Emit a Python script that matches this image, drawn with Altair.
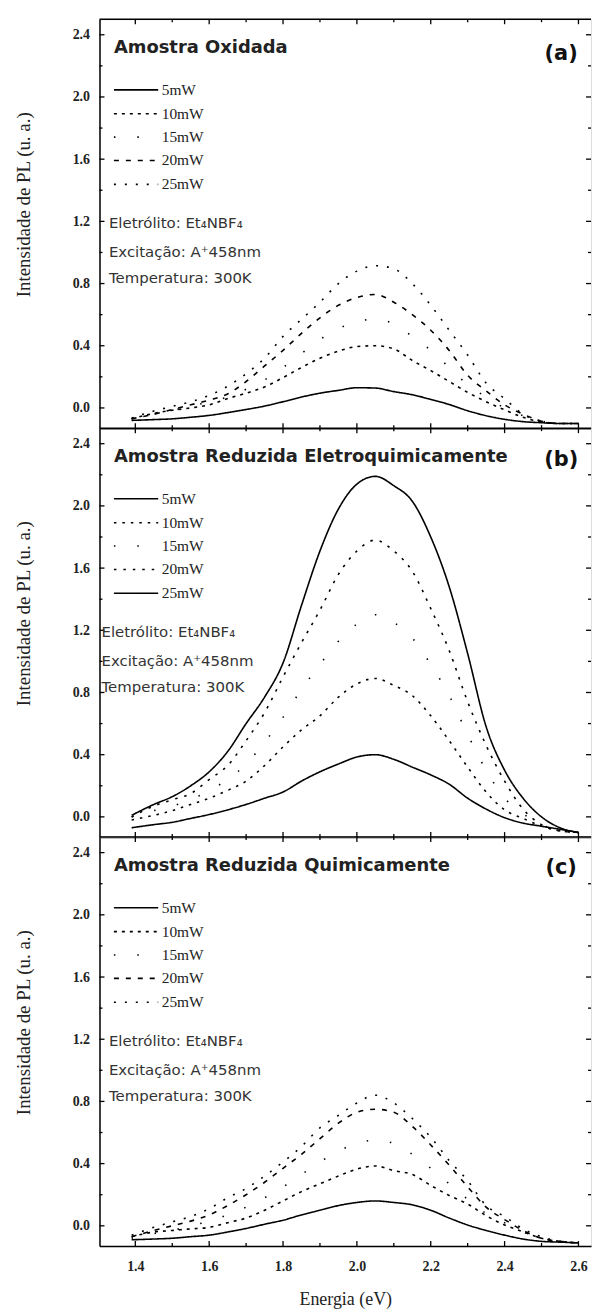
import altair as alt
import pandas as pd

# ---------------- data ----------------
energy = [1.39, 1.45, 1.50, 1.55, 1.60, 1.65, 1.70, 1.75, 1.80, 1.85, 1.90, 1.95, 2.00,
          2.05, 2.10, 2.15, 2.20, 2.25, 2.30, 2.35, 2.40, 2.45, 2.50, 2.55, 2.60]
series_names = ["5mW", "10mW", "15mW", "20mW", "25mW"]

# (a) Amostra Oxidada
a_5mW = [-0.08, -0.075, -0.07, -0.06, -0.048, -0.03, -0.01, 0.012, 0.04, 0.07, 0.095, 0.113, 0.13,
         0.128, 0.105, 0.085, 0.055, 0.022, -0.018, -0.05, -0.073, -0.088, -0.095, -0.10, -0.10]
a_10mW = [-0.07, -0.035, -0.015, 0.0, 0.02, 0.06, 0.095, 0.135, 0.195, 0.26, 0.32, 0.365, 0.395,
          0.40, 0.38, 0.305, 0.24, 0.17, 0.10, 0.04, -0.012, -0.06, -0.09, -0.10, -0.10]
a_15mW = [-0.07, -0.04, -0.015, 0.01, 0.04, 0.07, 0.12, 0.18, 0.26, 0.35, 0.44, 0.51, 0.555,
          0.57, 0.54, 0.46, 0.37, 0.26, 0.15, 0.07, 0.0, -0.05, -0.085, -0.10, -0.10]
a_20mW = [-0.07, -0.04, -0.01, 0.02, 0.05, 0.09, 0.17, 0.27, 0.37, 0.48, 0.58, 0.66, 0.71,
          0.73, 0.68, 0.60, 0.50, 0.37, 0.21, 0.11, 0.02, -0.04, -0.085, -0.10, -0.10]
a_25mW = [-0.065, -0.02, 0.01, 0.04, 0.08, 0.14, 0.22, 0.32, 0.46, 0.57, 0.68, 0.80, 0.88,
          0.915, 0.895, 0.80, 0.66, 0.50, 0.34, 0.16, 0.06, -0.04, -0.085, -0.10, -0.10]

# (b) Amostra Reduzida Eletroquimicamente
b_5mW = [-0.07, -0.05, -0.035, -0.01, 0.015, 0.045, 0.08, 0.12, 0.16, 0.23, 0.29, 0.34, 0.385,
         0.40, 0.37, 0.32, 0.27, 0.21, 0.12, 0.05, -0.005, -0.04, -0.06, -0.08, -0.10]
b_10mW = [-0.02, 0.01, 0.04, 0.08, 0.12, 0.17, 0.23, 0.33, 0.45, 0.56, 0.65, 0.77, 0.855,
          0.89, 0.845, 0.78, 0.65, 0.49, 0.32, 0.16, 0.045, -0.01, -0.06, -0.09, -0.10]
b_15mW = [0.0, 0.04, 0.07, 0.11, 0.17, 0.24, 0.34, 0.48, 0.64, 0.82, 0.98, 1.13, 1.24,
          1.30, 1.25, 1.15, 0.98, 0.78, 0.53, 0.30, 0.12, 0.02, -0.05, -0.09, -0.10]
b_20mW = [0.0, 0.07, 0.11, 0.15, 0.24, 0.33, 0.49, 0.67, 0.90, 1.12, 1.33, 1.56, 1.71,
          1.78, 1.71, 1.58, 1.34, 1.07, 0.74, 0.46, 0.23, 0.05, -0.05, -0.09, -0.10]
b_25mW = [0.01, 0.08, 0.13, 0.20, 0.29, 0.42, 0.60, 0.77, 0.99, 1.36, 1.71, 1.98, 2.14,
          2.19, 2.13, 2.03, 1.80, 1.48, 1.05, 0.58, 0.30, 0.12, 0.0, -0.07, -0.10]

# (c) Amostra Reduzida Quimicamente
c_5mW = [-0.09, -0.085, -0.08, -0.07, -0.06, -0.04, -0.017, 0.01, 0.036, 0.07, 0.10, 0.13, 0.15,
         0.16, 0.15, 0.135, 0.10, 0.05, 0.005, -0.03, -0.06, -0.085, -0.10, -0.105, -0.11]
c_10mW = [-0.07, -0.04, -0.03, -0.02, -0.01, 0.02, 0.05, 0.10, 0.16, 0.22, 0.27, 0.32, 0.365,
          0.385, 0.355, 0.33, 0.26, 0.195, 0.14, 0.065, 0.005, -0.038, -0.08, -0.10, -0.11]
c_15mW = [-0.08, -0.05, -0.03, 0.0, 0.03, 0.07, 0.12, 0.18, 0.25, 0.33, 0.41, 0.48, 0.53,
          0.55, 0.53, 0.46, 0.37, 0.27, 0.17, 0.08, 0.02, -0.04, -0.08, -0.10, -0.11]
c_20mW = [-0.07, -0.03, 0.0, 0.03, 0.07, 0.13, 0.20, 0.28, 0.37, 0.46, 0.56, 0.66, 0.73,
          0.75, 0.73, 0.64, 0.52, 0.39, 0.25, 0.12, 0.04, -0.03, -0.08, -0.10, -0.11]
c_25mW = [-0.06, -0.01, 0.025, 0.06, 0.11, 0.18, 0.24, 0.32, 0.41, 0.51, 0.63, 0.71, 0.79,
          0.84, 0.79, 0.69, 0.57, 0.42, 0.29, 0.13, 0.06, -0.02, -0.07, -0.10, -0.11]

panel_titles = ["Amostra Oxidada", "Amostra Reduzida Eletroquimicamente", "Amostra Reduzida Quimicamente"]
panel_letters = ["(a)", "(b)", "(c)"]
annotations = ["Eletrólito: Et₄NBF₄", "Excitação: A⁺458nm", "Temperatura: 300K"]

y_major = [0.0, 0.4, 0.8, 1.2, 1.6, 2.0, 2.4]
y_minor = [0.2, 0.6, 1.0, 1.4, 1.8, 2.2]
x_major = [1.4, 1.6, 1.8, 2.0, 2.2, 2.4, 2.6]
x_minor = [1.5, 1.7, 1.9, 2.1, 2.3, 2.5]

# ---------------- layout / style ----------------
W, H = 494, 411
XDOM = [1.303, 2.634]
YDOM = [-0.13, 2.50]
SERIF = "Liberation Serif"
SANS = "DejaVu Sans"

dash_ox = [[1, 0], [3, 5], [1.5, 22], [5, 7], [2, 9]]
dash_el = [[1, 0], [2.5, 6], [1.5, 22], [2.5, 7], [1, 0]]

xs = alt.Scale(domain=XDOM, nice=False, zero=False)
ys = alt.Scale(domain=YDOM, nice=False, zero=False)


def make_axes(show_x):
    yaxis = alt.Axis(values=y_major, format=".1f", ticks=False, grid=False,
                     domainColor="black", domainWidth=1.5, labelFlush=False,
                     labelFont=SERIF, labelFontWeight="bold", labelFontSize=14,
                     labelColor="#222", labelPadding=10,
                     title="Intensidade de PL (u. a.)", titleFont=SERIF,
                     titleFontWeight="normal", titleFontSize=19, titleColor="#222",
                     titleX=-76, titleY=186, titleBaseline="middle", titleAngle=270)
    if show_x:
        xaxis = alt.Axis(values=x_major, format=".1f", ticks=False, grid=False,
                         domainColor="black", domainWidth=1.5, labelFlush=False,
                         labelFont=SERIF, labelFontWeight="bold", labelFontSize=14,
                         labelColor="#222", labelPadding=14,
                         title="Energia (eV)", titleFont=SERIF, titleFontWeight="normal",
                         titleFontSize=18, titleColor="#222", titlePadding=17)
    else:
        xaxis = alt.Axis(values=x_major, ticks=False, grid=False, labels=False,
                         domainColor="black", domainWidth=1.5, title=None)
    return xaxis, yaxis


def panel(curves, dashes, title, letter, letter_y, annot_x, show_x):
    xaxis, yaxis = make_axes(show_x)
    X = alt.X("E:Q", scale=xs, axis=xaxis)
    Y = alt.Y("I:Q", scale=ys, axis=yaxis)

    rows = []
    for name, vals in zip(series_names, curves):
        for e, v in zip(energy, vals):
            rows.append({"E": e, "I": v, "series": name})
    df = pd.DataFrame(rows)

    lines = alt.Chart(df).mark_line(color="black", strokeWidth=1.6, interpolate="monotone",
                                    clip=True).encode(
        x=X, y=Y,
        strokeDash=alt.StrokeDash("series:N", scale=alt.Scale(domain=series_names, range=dashes),
                                  legend=None),
    )

    layers = [lines]
    # inward ticks (left/right for y, top/bottom for x)
    for vals, ln in ((y_major, 5), (y_minor, 3)):
        d = pd.DataFrame({"I": vals})
        layers.append(alt.Chart(d).mark_rule(color="black", strokeWidth=1.3).encode(
            y=Y, x=alt.value(0), x2=alt.value(ln)))
        layers.append(alt.Chart(d).mark_rule(color="black", strokeWidth=1.3).encode(
            y=Y, x=alt.value(W - ln), x2=alt.value(W)))
    for vals, ln in ((x_major, 5), (x_minor, 3)):
        d = pd.DataFrame({"E": vals})
        layers.append(alt.Chart(d).mark_rule(color="black", strokeWidth=1.3).encode(
            x=X, y=alt.value(H - ln), y2=alt.value(H)))
        layers.append(alt.Chart(d).mark_rule(color="black", strokeWidth=1.3).encode(
            x=X, y=alt.value(0), y2=alt.value(ln)))
    # top frame line
    layers.append(alt.Chart(pd.DataFrame({"k": [0]})).mark_rule(color="black", strokeWidth=1.5).encode(
        x=alt.value(0), x2=alt.value(W), y=alt.value(0)))

    # panel title and letter
    layers.append(alt.Chart(pd.DataFrame({"t": [title]})).mark_text(
        align="left", baseline="middle", font=SANS, fontWeight="bold", fontSize=18,
        color="#222").encode(text="t:N", x=alt.value(14.5), y=alt.value(29)))
    layers.append(alt.Chart(pd.DataFrame({"t": [letter]})).mark_text(
        align="center", baseline="middle", font=SANS, fontWeight="bold", fontSize=21,
        color="#111").encode(text="t:N", x=alt.value(464), y=alt.value(letter_y)))

    # legend
    leg_y = [71, 95, 118.5, 142, 166]
    for name, dsh, ly in zip(series_names, dashes, leg_y):
        ld = pd.DataFrame({"t": [name]})
        layers.append(alt.Chart(ld).mark_rule(color="black", strokeWidth=1.6, strokeDash=dsh).encode(
            x=alt.value(14.5), x2=alt.value(59), y=alt.value(ly)))
        layers.append(alt.Chart(ld).mark_text(
            align="left", baseline="middle", font=SERIF, fontSize=15.5, color="#222").encode(
            text="t:N", x=alt.value(62.5), y=alt.value(ly)))

    # annotations
    for txt, ay in zip(annotations, [205, 234, 260]):
        layers.append(alt.Chart(pd.DataFrame({"t": [txt]})).mark_text(
            align="left", baseline="middle", font=SANS, fontSize=15,
            color="#333").encode(text="t:N", x=alt.value(annot_x), y=alt.value(ay)))

    return alt.layer(*layers).properties(width=W, height=H)


pa = panel([a_5mW, a_10mW, a_15mW, a_20mW, a_25mW], dash_ox, panel_titles[0], panel_letters[0], 35, 9.5, False)
pb = panel([b_5mW, b_10mW, b_15mW, b_20mW, b_25mW], dash_el, panel_titles[1], panel_letters[1], 32, 2, False)
pc = panel([c_5mW, c_10mW, c_15mW, c_20mW, c_25mW], dash_ox, panel_titles[2], panel_letters[2], 31, 9.5, True)

chart = alt.vconcat(pa, pb, pc, spacing=0, bounds="flush").resolve_scale(
    strokeDash="independent"
).properties(
    padding={"left": 14, "top": 14, "right": 0, "bottom": 0}
).configure_view(strokeOpacity=0).configure(background="white")

chart.save("out.html", embed_options={"renderer": "svg", "actions": False})
